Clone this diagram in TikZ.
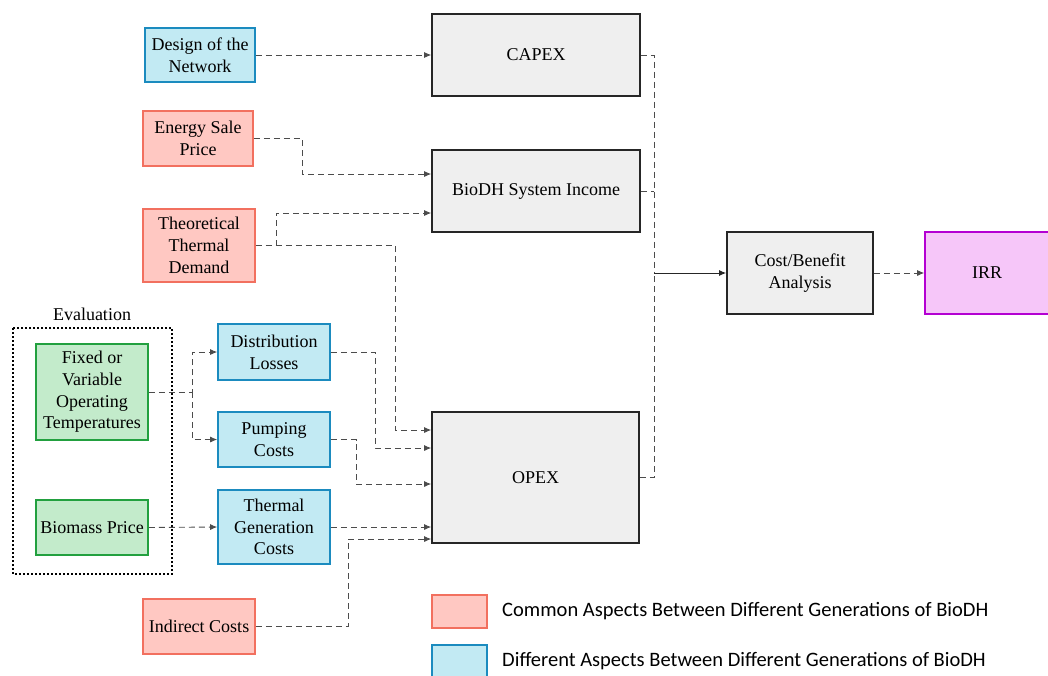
\documentclass[tikz,border=0pt]{standalone}
\usepackage{fontspec}
\setmainfont{Liberation Serif}
\newfontfamily\legfont{Carlito}
\usetikzlibrary{arrows.meta}
\definecolor{bluefill}{HTML}{C2EAF3}
\definecolor{blueline}{HTML}{1B8BBF}
\definecolor{pinkfill}{HTML}{FFC8C2}
\definecolor{pinkline}{HTML}{F2705F}
\definecolor{greenfill}{HTML}{C3EBCB}
\definecolor{greenline}{HTML}{22A03F}
\definecolor{greyfill}{HTML}{EFEFEF}
\definecolor{irrfill}{HTML}{F6C6F9}
\definecolor{irrline}{HTML}{B400D2}
\tikzset{
  mainfont/.style={font=\fontsize{18}{21.7}\selectfont},
  base/.style={draw, line width=1.6pt, align=center, inner sep=1pt, mainfont},
  bluebox/.style={base, fill=bluefill, draw=blueline},
  pinkbox/.style={base, fill=pinkfill, draw=pinkline},
  greenbox/.style={base, fill=greenfill, draw=greenline},
  greybox/.style={base, fill=greyfill, draw=black!85},
  irrbox/.style={base, fill=irrfill, draw=irrline},
  conn/.style={draw=black!70, line width=0.9pt, dash pattern=on 6pt off 4pt},
  arr/.style={conn, -{Latex[length=7pt,width=6pt]}},
}
\begin{document}
\begin{tikzpicture}[x=1pt,y=-1pt]
\useasboundingbox (0,0) rectangle (1048,675);
% nodes
\node[bluebox, minimum width=110pt, minimum height=54pt] (design) at (200,55) {Design of the\\Network};
\node[pinkbox, minimum width=110pt, minimum height=55pt] (energy) at (198,138.5) {Energy Sale\\Price};
\node[pinkbox, minimum width=112pt, minimum height=73pt] (theo) at (199,245.5) {Theoretical\\Thermal\\Demand};
\node[greybox, minimum width=208pt, minimum height=82pt] (capex) at (536,55) {CAPEX};
\node[greybox, minimum width=208pt, minimum height=82pt] (income) at (536,191) {BioDH System Income};
\node[greybox, minimum width=146pt, minimum height=82pt] (cba) at (800,273) {Cost/Benefit\\Analysis};
\node[irrbox, minimum width=126pt, minimum height=82pt] (irr) at (988,273) {};
\node[mainfont] (irrt) at (987,273) {IRR};
\node[greybox, minimum width=207pt, minimum height=131pt] (opex) at (535.5,477.5) {OPEX};
\draw[line width=1.4pt, dash pattern=on 2pt off 2pt] (13,328) rectangle (172,574);
\node[mainfont] (evallabel) at (92,314) {Evaluation};
\node[greenbox, minimum width=112pt, minimum height=96pt] (fixed) at (92,392) {Fixed or\\Variable\\Operating\\Temperatures};
\node[greenbox, minimum width=112pt, minimum height=55pt] (biomass) at (92,527.5) {Biomass Price};
\node[bluebox, minimum width=112pt, minimum height=56pt] (dist) at (274,352) {Distribution\\Losses};
\node[bluebox, minimum width=112pt, minimum height=55pt] (pump) at (274,439.5) {Pumping\\Costs};
\node[bluebox, minimum width=112pt, minimum height=74pt] (thermal) at (274,527) {Thermal\\Generation\\Costs};
\node[pinkbox, minimum width=112pt, minimum height=55pt] (indirect) at (199,626.5) {Indirect Costs};
% legend
\node[pinkbox, minimum width=55pt, minimum height=33pt] (legpink) at (459.5,611.5) {};
\node[bluebox, minimum width=55pt, minimum height=34pt] (legblue) at (459.5,662) {};
\node[anchor=west, font=\legfont\fontsize{20.5}{24}\selectfont, inner sep=0pt] (legpinkt) at (502,611) {Common Aspects Between Different Generations of BioDH};
\node[anchor=west, font=\legfont\fontsize{20.5}{24}\selectfont, inner sep=0pt] (legbluet) at (502,661) {Different Aspects Between Different Generations of BioDH};
% connectors
\draw[arr] (design.east) -- (capex.west);
\draw[arr] (energy.east) -- (302,138.5) -- (302,174) -- (income.west |- 0,174);
\draw[arr] (theo.east) -- (276,245.5) -- (276,213) -- (income.west |- 0,213);
\draw[arr] (theo.east) -- (395,245.5) -- (395,430) -- (opex.west |- 0,430);
\draw[arr] (dist.east) -- (375,352) -- (375,448) -- (opex.west |- 0,448);
\draw[arr] (pump.east) -- (356,439.5) -- (356,484) -- (opex.west |- 0,484);
\draw[arr] (thermal.east) -- (opex.west |- thermal.east);
\draw[arr] (indirect.east) -- (348,626.5) -- (348,539) -- (opex.west |- 0,539);
\draw[arr] (fixed.east) -- (192,392) -- (192,352) -- (dist.west);
\draw[arr] (192,392) -- (192,439.5) -- (pump.west);
\draw[arr] (biomass.east) -- (thermal.west);
\draw[conn] (capex.east) -- (654,55) -- (654,273);
\draw[conn] (income.east) -- (654,191);
\draw[conn] (opex.east) -- (654,477.5) -- (654,273);
\draw[line width=1pt, draw=black!85, -{Latex[length=7pt,width=6pt]}] (654,273) -- (cba.west);
\draw[arr] (cba.east) -- (irr.west);
\end{tikzpicture}
\end{document}
